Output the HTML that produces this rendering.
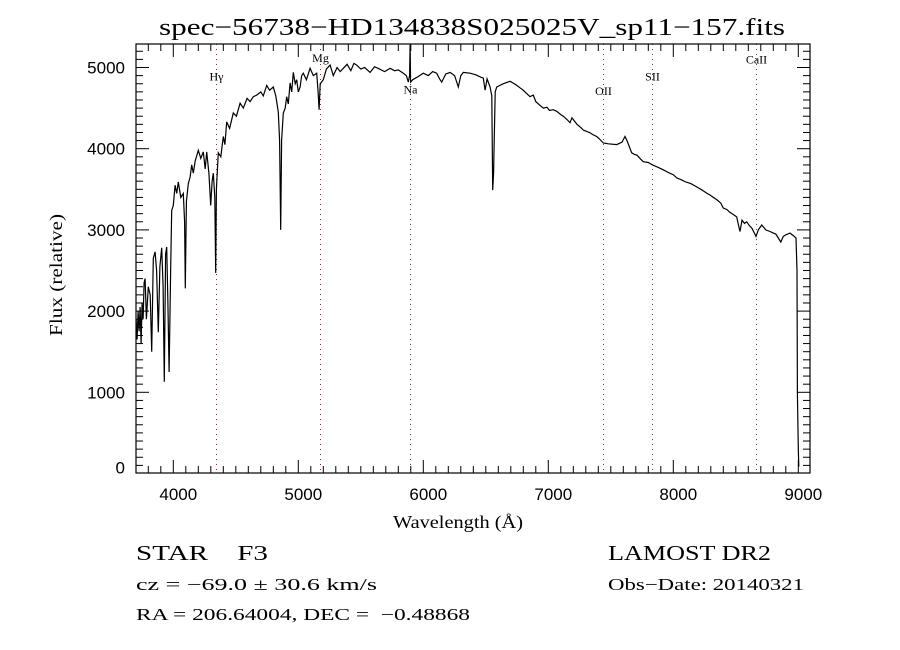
<!DOCTYPE html>
<html><head><meta charset="utf-8"><style>
html,body{margin:0;padding:0;background:#fff;}
svg{display:block;font-family:"Liberation Serif",serif;}
text{white-space:pre;}
</style></head><body>
<svg id="chart" width="900" height="650" viewBox="0 0 900 650">
<rect x="0" y="0" width="900" height="650" fill="#fff"/>
<text x="472" y="35" text-anchor="middle" font-size="24" textLength="626" lengthAdjust="spacingAndGlyphs">spec−56738−HD134838S025025V_sp11−157.fits</text>
<g id="grid"></g>
<g id="axes"></g>
<path id="spec" fill="none" stroke="#000" stroke-width="1.2"/>
<rect x="136" y="44" width="674" height="429" fill="none" stroke="#000" stroke-width="1.2"/>
<text x="458" y="528" text-anchor="middle" font-size="18" textLength="130" lengthAdjust="spacingAndGlyphs">Wavelength (Å)</text>
<text transform="translate(62,275) rotate(-90)" text-anchor="middle" font-size="18" textLength="122" lengthAdjust="spacingAndGlyphs">Flux (relative)</text>
<text x="136" y="560" font-size="21" textLength="132" lengthAdjust="spacingAndGlyphs">STAR    F3</text>
<text x="608" y="560" font-size="21" textLength="163" lengthAdjust="spacingAndGlyphs">LAMOST DR2</text>
<text x="136" y="590" font-size="17" textLength="241" lengthAdjust="spacingAndGlyphs">cz = −69.0 ± 30.6 km/s</text>
<text x="608" y="590" font-size="17" textLength="196" lengthAdjust="spacingAndGlyphs">Obs−Date: 20140321</text>
<text x="136" y="620" font-size="17" textLength="334" lengthAdjust="spacingAndGlyphs">RA = 206.64004, DEC =  −0.48868</text>
</svg>
<script>
const wavelengths=[3702,3710,3718,3726,3734,3742,3750,3758,3766,3774,3785,3800,3815,3827,3840,3854,3866,3880,3893,3907,3918,3928,3938,3947,3957,3966,3979,3987,4000,4014,4027,4040,4060,4080,4090,4096,4105,4120,4134,4147,4160,4175,4200,4220,4240,4255,4267,4285,4299,4310,4320,4332,4339,4345,4360,4380,4400,4413,4427,4450,4480,4505,4534,4560,4590,4614,4640,4667,4700,4720,4747,4770,4800,4820,4840,4850,4859,4866,4880,4895,4907,4920,4934,4947,4960,4975,4987,5000,5014,5027,5040,5065,5094,5120,5147,5158,5166,5175,5200,5225,5254,5280,5310,5335,5360,5390,5420,5445,5467,5500,5530,5574,5610,5650,5690,5734,5770,5800,5840,5865,5880,5890,5894,5898,5915,5950,6000,6040,6075,6107,6130,6147,6180,6214,6250,6280,6300,6320,6374,6420,6460,6480,6494,6510,6534,6548,6555,6562,6565,6575,6587,6640,6694,6740,6774,6800,6820,6854,6880,6900,6930,6960,6990,7010,7040,7067,7100,7120,7150,7174,7190,7210,7230,7260,7280,7310,7330,7360,7387,7410,7440,7480,7547,7590,7614,7630,7667,7690,7710,7740,7760,7800,7832,7880,7920,7970,8000,8027,8060,8100,8140,8187,8220,8240,8270,8294,8320,8350,8380,8400,8430,8450,8480,8507,8520,8534,8550,8570,8587,8610,8630,8662,8680,8707,8740,8774,8800,8820,8840,8860,8880,8900,8934,8960,8982,8990,8993,9000,9004];
const fluxValues=[1900,1650,2000,1750,2050,1600,2100,1900,2350,2400,1900,2300,2200,1500,2650,2730,2500,1740,2550,2780,2300,1130,2700,2790,2100,1250,2540,3240,3300,3550,3450,3590,3400,3450,3100,2280,3350,3570,3650,3800,3700,3850,3980,3880,3960,3750,3960,3700,3300,3600,3700,3400,2470,3500,3950,3900,4150,4050,4330,4250,4440,4400,4560,4500,4620,4580,4640,4660,4700,4650,4780,4720,4760,4650,4450,4100,3000,4100,4440,4500,4640,4550,4810,4700,4940,4800,4850,4700,4760,4900,4930,4850,4990,4900,4930,4700,4480,4800,4850,4980,5030,4900,5000,4950,4990,5040,4960,5050,5030,4980,5000,4940,5010,4980,4950,4990,4960,4970,4930,4900,4820,4900,5280,4820,4850,4880,4930,4900,4950,4930,4860,4820,4920,4940,4900,4760,4900,4940,4930,4910,4880,4870,4720,4860,4760,4650,3490,3700,3900,4700,4760,4800,4830,4790,4750,4720,4690,4640,4660,4580,4540,4500,4510,4470,4480,4460,4420,4400,4360,4320,4380,4340,4300,4260,4230,4210,4200,4170,4150,4120,4070,4060,4050,4080,4150,4100,3950,3930,3920,3870,3840,3830,3800,3770,3740,3700,3680,3640,3620,3590,3570,3530,3500,3480,3450,3430,3400,3370,3330,3270,3250,3220,3190,3160,3070,2980,3120,3080,3100,3050,3020,2920,3000,3060,3000,2980,2960,2950,2900,2850,2920,2940,2960,2930,2900,2500,1000,300,85];
const lineWaves=[4340,5175,5893,7440,7832,8660];
const lineNames=["Hγ","Mg","Na","OII","SII","CaII"];
const lineLabelFlux=[4840,5070,4680,4660,4840,5050];
const xTicks=[4000,5000,6000,7000,8000,9000];
const yTicks=[0,1000,2000,3000,4000,5000];

const NS='http://www.w3.org/2000/svg';
const X=l=>173.3+(l-4000)*0.125;
const Y=f=>473.5-f*0.0812;
const L=136,R=810,T=44,B=473;
const axes=document.getElementById('axes');
function mk(tag,attrs,parent){const e=document.createElementNS(NS,tag);for(const k in attrs)e.setAttribute(k,attrs[k]);parent.appendChild(e);return e;}
for(let l=3800;l<=9000;l+=100){
  const major=l%1000===0, len=major?13:7, x=X(l);
  if(x<L||x>R)continue;
  const t1=mk('line',{x1:x,x2:x,y1:B,y2:B-len,stroke:'#000','stroke-width':1},axes);
  
  
  const t2=mk('line',{x1:x,x2:x,y1:T,y2:T+len,stroke:'#000','stroke-width':1},axes);
  
  
}
for(let f=0;f<=5200;f+=100){
  const major=f%1000===0,len=major?13:7,y=Y(f);
  if(y<T||y>B)continue;
  const t1=mk('line',{x1:L,x2:L+len,y1:y,y2:y,stroke:'#000','stroke-width':1},axes);
  
  
  const t2=mk('line',{x1:R,x2:R-len,y1:y,y2:y,stroke:'#000','stroke-width':1},axes);
  
  
}
xTicks.forEach(v=>{
  const t=mk('text',{x:X(v)+5,y:500,'text-anchor':'middle','font-family':'Liberation Sans, sans-serif','font-size':17},axes);
  t.textContent=v;
  
  
});
yTicks.forEach(v=>{
  const yy=v===0?Y(v):Y(v)+6;
  const t=mk('text',{x:125,y:yy,'text-anchor':'end','font-family':'Liberation Sans, sans-serif','font-size':17},axes);
  t.textContent=v;
  
  
});
const grid=document.getElementById('grid');
lineWaves.forEach((w,i)=>{
  const x=Math.round(X(w))+0.5;
  const ln=mk('line',{x1:x,x2:x,y1:T,y2:B,stroke:'#9a3030','stroke-width':1,'stroke-dasharray':'1 4'},grid);
  
  
  const t=mk('text',{x:x,y:Y(lineLabelFlux[i]),'text-anchor':'middle','font-size':12},grid);
  t.textContent=lineNames[i];
  
  
});
let d='';
wavelengths.forEach((w,i)=>{d+=(i?'L':'M')+X(w).toFixed(1)+' '+Y(fluxValues[i]).toFixed(1);});
document.getElementById('spec').setAttribute('d',d);
</script>
</body></html>
